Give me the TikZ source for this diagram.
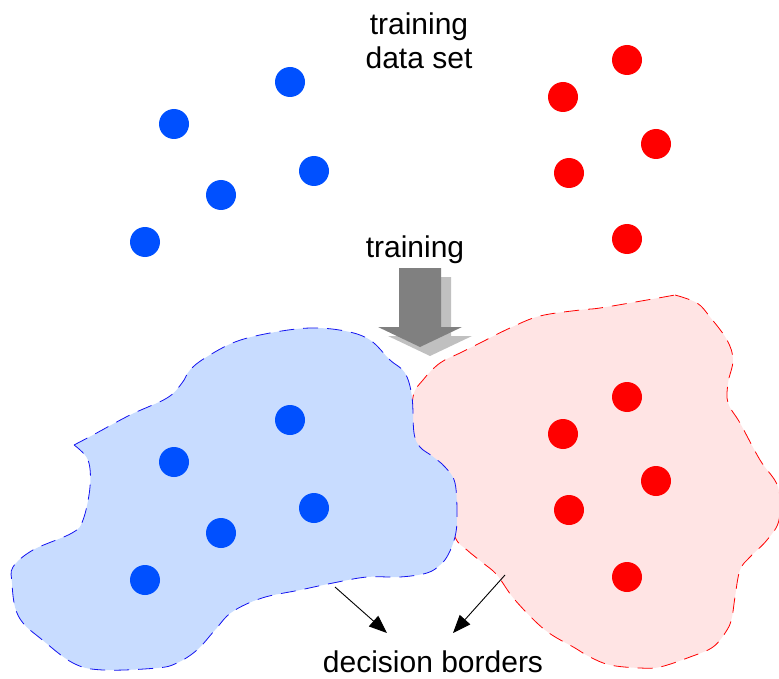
\documentclass[tikz,border=0pt]{standalone}
\usepackage{fontspec}
\setmainfont{Liberation Sans}
\usetikzlibrary{arrows.meta}
\definecolor{dotblue}{RGB}{0,80,255}
\definecolor{dotred}{RGB}{255,0,0}
\definecolor{fillblue}{RGB}{200,220,255}
\definecolor{fillred}{RGB}{255,228,228}
\definecolor{lineblue}{RGB}{20,20,240}
\definecolor{darkarrow}{RGB}{128,128,128}
\definecolor{lightarrow}{RGB}{192,192,192}
\tikzset{
  bdot/.style={circle,fill=dotblue,inner sep=0pt,minimum size=30pt},
  rdot/.style={circle,fill=dotred,inner sep=0pt,minimum size=30pt},
  label text/.style={font=\fontsize{30}{34}\selectfont,align=center,inner sep=0pt},
  region/.style={line width=0.8pt,dash pattern=on 15pt off 9pt},
  pointer/.style={line width=0.9pt,-{Triangle[length=18pt,width=14pt]}},
}
\begin{document}
\begin{tikzpicture}[x=1pt,y=-1pt]
\useasboundingbox (0,0) rectangle (779,679);
% regions
\draw[region,draw=dotred,fill=fillred] plot[smooth,tension=0.6] coordinates {
(675,295) (697,303) (710,317) (727,340) (733,360) (728,383) (728,403) (740,423)
(760,460) (778,487) (779,520) (767,540) (750,557) (740,570) (735,597) (732,617)
(727,630) (713,647) (690,657) (660,667) (640,668) (610,665) (590,657) (575,648)
(545,630) (515,600) (497,575) (483,563) (467,550) (455,537) (445,500) (425,460)
(413,437) (413,397) (423,380) (440,363) (460,353) (480,343) (510,328) (540,316)
(580,310) (600,308) (647,300) (675,295)} -- cycle;
\draw[region,draw=lineblue,fill=fillblue] plot[smooth,tension=0.6] coordinates {
(74,445) (93,435) (130,415) (167,398) (182,383) (190,370) (205,358) (235,342)
(270,333) (310,328) (345,331) (370,340) (390,360) (405,373) (412,397) (414,433)
(420,447) (432,456) (445,467) (455,483) (457,517) (455,537) (448,555) (440,565)
(427,573) (400,577) (367,577) (333,583) (300,590) (262,598) (232,612) (215,630)
(197,650) (177,663) (157,668) (103,670) (73,663) (40,638) (23,623) (15,607)
(12,583) (13,567) (33,550) (72,533) (83,520) (90,487) (88,460) (74,445)} -- cycle;
% training arrow (shadow + main)
\fill[lightarrow] (409,277) -- (451,277) -- (451,336) -- (472,336) -- (430,356) -- (388,336) -- (409,336) -- cycle;
\fill[darkarrow] (399,268) -- (441,268) -- (441,327) -- (462,327) -- (420,347) -- (378,327) -- (399,327) -- cycle;
% labels
\node[label text] (tds) at (419,41) {training\\data set};
\node[label text] (tr) at (415,250) {training};
\node[label text] (db) at (433,662) {decision borders};
% top dots
\node[bdot] (b1) at (290,82) {};
\node[bdot] (b2) at (174,124) {};
\node[bdot] (b3) at (314,171) {};
\node[bdot] (b4) at (221,195) {};
\node[bdot] (b5) at (145,242) {};
\node[rdot] (r1) at (627,60) {};
\node[rdot] (r2) at (563,97) {};
\node[rdot] (r3) at (656,144) {};
\node[rdot] (r4) at (569,173) {};
\node[rdot] (r5) at (627,239) {};
% bottom dots
\node[bdot] (bb1) at (290,420) {};
\node[bdot] (bb2) at (174,462) {};
\node[bdot] (bb3) at (314,508) {};
\node[bdot] (bb4) at (221,533) {};
\node[bdot] (bb5) at (145,580) {};
\node[rdot] (rb1) at (627,397) {};
\node[rdot] (rb2) at (563,434) {};
\node[rdot] (rb3) at (656,481) {};
\node[rdot] (rb4) at (569,510) {};
\node[rdot] (rb5) at (627,577) {};
% decision border pointers
\coordinate (pb) at (335,587);
\coordinate (pbend) at (387,633);
\coordinate (pr) at (505,575);
\coordinate (prend) at (453,633);
\draw[pointer] (pb) -- (pbend);
\draw[pointer] (pr) -- (prend);
\end{tikzpicture}
\end{document}
